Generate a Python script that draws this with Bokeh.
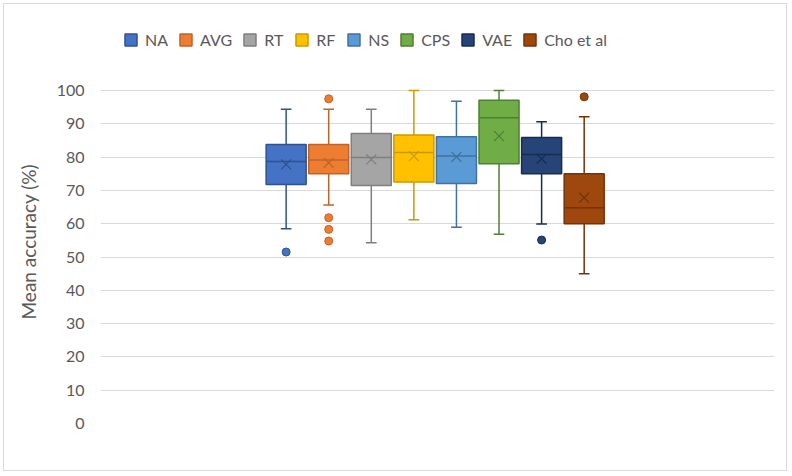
from bokeh.plotting import figure
from bokeh.models import Range1d, FixedTicker, Legend, LegendItem, Title
from bokeh.embed import file_html
from bokeh.resources import INLINE

# ---- data ----
categories = ["NA", "AVG", "RT", "RF", "NS", "CPS", "VAE", "Cho et al"]
lower_whisker = [58.5, 65.6, 54.3, 61.2, 58.9, 56.8, 59.9, 45.0]
q1 = [71.8, 75.0, 71.5, 72.5, 72.1, 78.0, 75.0, 60.0]
median = [78.7, 79.1, 79.9, 81.4, 80.3, 91.8, 80.8, 64.8]
q3 = [83.8, 83.8, 87.1, 86.6, 86.1, 97.1, 85.9, 75.0]
upper_whisker = [94.4, 94.4, 94.4, 100.0, 96.8, 100.0, 90.6, 92.1]
mean = [77.8, 78.3, 79.3, 80.3, 80.1, 86.3, 79.5, 67.8]
outliers = {
    "NA": [51.5],
    "AVG": [97.5, 61.8, 58.3, 54.8],
    "VAE": [55.1],
    "Cho et al": [98.1],
}
y_ticks = list(range(0, 101, 10))

fill_colors = ["#4472C4", "#ED7D31", "#A5A5A5", "#FFC000", "#5B9BD5", "#70AD47", "#264478", "#9E480E"]
line_colors = ["#2F528F", "#C0632A", "#7F7F7F", "#C99A00", "#41719C", "#507E32", "#172C51", "#713409"]

FONT = "Lato"
TEXT_COLOR = "#595959"

# frame extends above 100 to leave room for the legend (no ticks / grid there)
p = figure(
    width=784, height=468,
    output_backend="svg", toolbar_location=None,
    x_range=Range1d(-7.86, 7.97), y_range=Range1d(0, 100 * 393 / 333),
    min_border_left=94, min_border_right=14, min_border_top=26, min_border_bottom=49,
    styles={"margin-left": "3px", "margin-top": "3px", "border": "1px solid #d9d9d9"},
)
p.outline_line_color = None
p.xaxis.visible = False
p.xgrid.grid_line_color = None
p.ygrid.grid_line_color = "#d9d9d9"
p.ygrid.grid_line_width = 1

yax = p.yaxis[0]
yax.ticker = FixedTicker(ticks=y_ticks)
yax.axis_line_color = None
yax.major_tick_line_color = None
yax.minor_tick_line_color = None
yax.major_tick_in = 0
yax.major_tick_out = 0
yax.major_label_standoff = 16
yax.major_label_text_font = FONT
yax.major_label_text_font_size = "16px"
yax.major_label_text_color = TEXT_COLOR

ylabel = Title(text="Mean accuracy (%)", align="left", vertical_align="top", offset=104, standoff=24,
               text_font=FONT, text_font_size="19px", text_font_style="normal",
               text_color=TEXT_COLOR)
p.add_layout(ylabel, "left")

n = len(categories)
xs = [i - (n - 1) / 2 for i in range(n)]
box_w = 0.94
cap_w = 0.25

items = []
for i, cat in enumerate(categories):
    x = xs[i]
    fc, lc = fill_colors[i], line_colors[i]
    p.segment(x0=[x, x], y0=[q3[i], q1[i]], x1=[x, x], y1=[upper_whisker[i], lower_whisker[i]],
              line_color=lc, line_width=1.5)
    p.segment(x0=[x - cap_w / 2] * 2, y0=[upper_whisker[i], lower_whisker[i]],
              x1=[x + cap_w / 2] * 2, y1=[upper_whisker[i], lower_whisker[i]],
              line_color=lc, line_width=1.5)
    r = p.quad(left=[x - box_w / 2], right=[x + box_w / 2], bottom=[q1[i]], top=[q3[i]],
               fill_color=fc, line_color=lc, line_width=1.5)
    p.segment(x0=[x - box_w / 2], y0=[median[i]], x1=[x + box_w / 2], y1=[median[i]],
              line_color=lc, line_width=1.5)
    p.scatter(x=[x], y=[mean[i]], marker="x", size=14, line_color=lc, line_width=1.2)
    if cat in outliers:
        ov = outliers[cat]
        p.scatter(x=[x] * len(ov), y=ov, marker="circle", size=8, fill_color=fc, line_color=lc, line_width=1)
    items.append(LegendItem(label=cat, renderers=[r]))

legend = Legend(items=items, orientation="horizontal", location=(23, 374))
legend.padding = 0
legend.margin = 0
legend.spacing = 10
legend.label_standoff = 7
legend.glyph_width = 15
legend.glyph_height = 15
legend.label_height = 15
legend.label_text_font = FONT
legend.label_text_font_size = "16px"
legend.label_text_color = TEXT_COLOR
legend.label_text_baseline = "middle"
legend.border_line_color = None
legend.background_fill_alpha = 0
p.add_layout(legend, "center")

open("out.html", "w").write(file_html(p, INLINE))
